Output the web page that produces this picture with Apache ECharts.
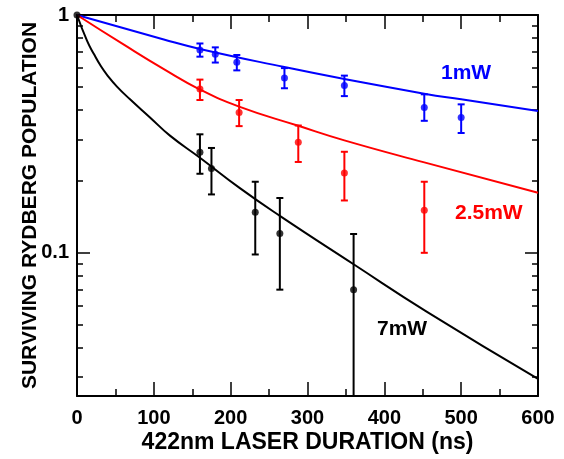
<!DOCTYPE html>
<html>
<head>
<meta charset="utf-8">
<script src="https://cdn.jsdelivr.net/npm/echarts@6/dist/echarts.min.js"></script>
<style>
  html, body { margin: 0; padding: 0; background: #fff; }
  #chart { width: 564px; height: 459px; }
</style>
</head>
<body>
<div id="chart"></div>
<script>
// Axis ranges and ticks
const X_MIN = 0, X_MAX = 600, X_STEP = 100;
const Y_MIN = 0.025, Y_MAX = 1;
const yMajorTicks = [0.1, 1];
const yMinorTicks = [0.03, 0.04, 0.05, 0.06, 0.07, 0.08, 0.09, 0.2, 0.3, 0.4, 0.5, 0.6, 0.7, 0.8, 0.9];

// Measured surviving population (1 mW)
const x1mW = [160, 180, 208, 270, 348, 452, 500];
const y1mW = [0.712, 0.684, 0.633, 0.544, 0.505, 0.408, 0.371];
const lo1mW = [0.668, 0.631, 0.585, 0.492, 0.456, 0.359, 0.319];
const hi1mW = [0.759, 0.731, 0.679, 0.598, 0.556, 0.464, 0.421];

// Measured surviving population (2.5 mW)
const x25mW = [160, 211, 288, 348, 452];
const y25mW = [0.489, 0.389, 0.292, 0.2165, 0.151];
const lo25mW = [0.439, 0.341, 0.241, 0.166, 0.100];
const hi25mW = [0.535, 0.439, 0.343, 0.266, 0.199];

// Measured surviving population (7 mW)
const x7mW = [160, 175, 232, 264, 360];
const y7mW = [0.2645, 0.226, 0.148, 0.1205, 0.070];
const lo7mW = [0.215, 0.176, 0.0984, 0.070, 0.020];
const hi7mW = [0.315, 0.276, 0.199, 0.170, 0.120];

// Common starting point
const xStart = [0];
const yStart = [1];

// Model curves
const fitX1mW = [0, 113, 160, 270, 348, 452, 500, 600];
const fitY1mW = [1, 0.789, 0.72, 0.604, 0.538, 0.467, 0.442, 0.395];
const fitX25mW = [0, 61, 113, 160, 211, 288, 348, 452, 600];
const fitY25mW = [1, 0.75, 0.592, 0.486, 0.412, 0.342, 0.297, 0.24, 0.179];
const fitX7mW = [0, 13, 22, 31, 40, 52, 69, 95, 121, 160, 212, 264, 360, 455, 600];
const fitY7mW = [1, 0.78, 0.685, 0.61, 0.555, 0.50, 0.442, 0.371, 0.311, 0.251, 0.187, 0.143, 0.0895, 0.0566, 0.0295];

const BLUE = '#0000ff', RED = '#ff0000', BLACK = '#000000';
const FONT = '"Liberation Sans", Arial, Helvetica, sans-serif';

const zip = (a, b) => a.map((v, i) => [v, b[i]]);
const zip3 = (a, b, c) => a.map((v, i) => [v, b[i], c[i]]);

function errorBars(color, xs, los, his) {
  return {
    type: 'custom',
    xAxisIndex: 0, yAxisIndex: 0,
    clip: false,
    z: 3,
    data: zip3(xs, los, his),
    renderItem(params, api) {
      const x = api.value(0), lo = api.value(1), hi = api.value(2);
      const top = api.coord([x, hi]);
      const bot = api.coord([x, Math.max(lo, Y_MIN)]);
      const w = 3.5;
      const st = { stroke: color, lineWidth: 2 };
      const children = [
        { type: 'line', shape: { x1: top[0], y1: top[1], x2: bot[0], y2: bot[1] }, style: st },
        { type: 'line', shape: { x1: top[0] - w, y1: top[1], x2: top[0] + w, y2: top[1] }, style: st }
      ];
      if (lo >= Y_MIN) {
        children.push({ type: 'line', shape: { x1: bot[0] - w, y1: bot[1], x2: bot[0] + w, y2: bot[1] }, style: st });
      }
      return { type: 'group', children };
    }
  };
}

function points(color, xs, ys) {
  return {
    type: 'scatter', xAxisIndex: 0, yAxisIndex: 0,
    symbol: 'circle', symbolSize: 7, clip: false, z: 4,
    itemStyle: { color },
    data: zip(xs, ys)
  };
}

function curve(color, xs, ys) {
  return {
    type: 'line', xAxisIndex: 0, yAxisIndex: 0,
    showSymbol: false, smooth: 0.5, z: 2,
    lineStyle: { color, width: 2 },
    data: zip(xs, ys)
  };
}

const axisLineStyle = { show: true, lineStyle: { color: BLACK, width: 2 } };
const tickLine = { color: BLACK, width: 1.5 };
const labelFmt = v => String(Number(Number(v).toPrecision(6)));

function xAxisDef(position, showLabels) {
  return {
    type: 'value', position, min: X_MIN, max: X_MAX, interval: X_STEP,
    axisLine: axisLineStyle,
    axisTick: { show: true, inside: true, length: 14, lineStyle: tickLine },
    minorTick: { show: true, splitNumber: 2, length: 7, lineStyle: tickLine },
    axisLabel: { show: showLabels, margin: 12, color: BLACK, fontFamily: FONT, fontWeight: 'bold', fontSize: 20 },
    splitLine: { show: false }, minorSplitLine: { show: false },
    name: showLabels ? '422nm LASER DURATION (ns)' : '',
    nameLocation: 'middle', nameGap: 35, nameMoveOverlap: false,
    nameTextStyle: { color: BLACK, fontFamily: FONT, fontWeight: 'bold', fontSize: 23 }
  };
}

function yAxisDef(position, major, showLabels) {
  const vals = major ? yMajorTicks : yMinorTicks;
  return {
    type: 'log', logBase: 10, position, min: Y_MIN, max: Y_MAX,
    axisLine: major ? axisLineStyle : { show: false },
    axisTick: { show: true, inside: true, length: major ? 13 : 6, customValues: vals, lineStyle: tickLine },
    axisLabel: {
      show: showLabels, customValues: yMajorTicks, formatter: labelFmt, margin: 8,
      padding: [3, 0, 0, 0],
      color: BLACK, fontFamily: FONT, fontWeight: 'bold', fontSize: 20
    },
    splitLine: { show: false },
    name: showLabels ? 'SURVIVING RYDBERG POPULATION' : '',
    nameLocation: 'middle', nameGap: 36, nameMoveOverlap: false,
    nameTextStyle: { color: BLACK, fontFamily: FONT, fontWeight: 'bold', fontSize: 21 }
  };
}

const chart = echarts.init(document.getElementById('chart'), null, { renderer: 'canvas' });
chart.setOption({
  animation: false,
  backgroundColor: '#ffffff',
  grid: { left: 77, right: 26, top: 15, bottom: 59, containLabel: false },
  xAxis: [xAxisDef('bottom', true), xAxisDef('top', false)],
  yAxis: [
    yAxisDef('left', true, true),
    yAxisDef('left', false, false),
    yAxisDef('right', true, false),
    yAxisDef('right', false, false)
  ],
  series: [
    curve(BLUE, fitX1mW, fitY1mW),
    curve(RED, fitX25mW, fitY25mW),
    curve(BLACK, fitX7mW, fitY7mW),
    errorBars(BLUE, x1mW, lo1mW, hi1mW),
    errorBars(RED, x25mW, lo25mW, hi25mW),
    errorBars(BLACK, x7mW, lo7mW, hi7mW),
    points(BLUE, x1mW, y1mW),
    points(RED, x25mW, y25mW),
    points(BLACK, x7mW, y7mW),
    points(BLACK, xStart, yStart)
  ],
  graphic: [
    { type: 'text', left: 441, top: 63, style: { text: '1mW', fill: BLUE, font: 'bold 21px ' + FONT } },
    { type: 'text', left: 455, top: 203, style: { text: '2.5mW', fill: RED, font: 'bold 21px ' + FONT } },
    { type: 'text', left: 377, top: 319, style: { text: '7mW', fill: BLACK, font: 'bold 21px ' + FONT } }
  ]
});
</script>
</body>
</html>
